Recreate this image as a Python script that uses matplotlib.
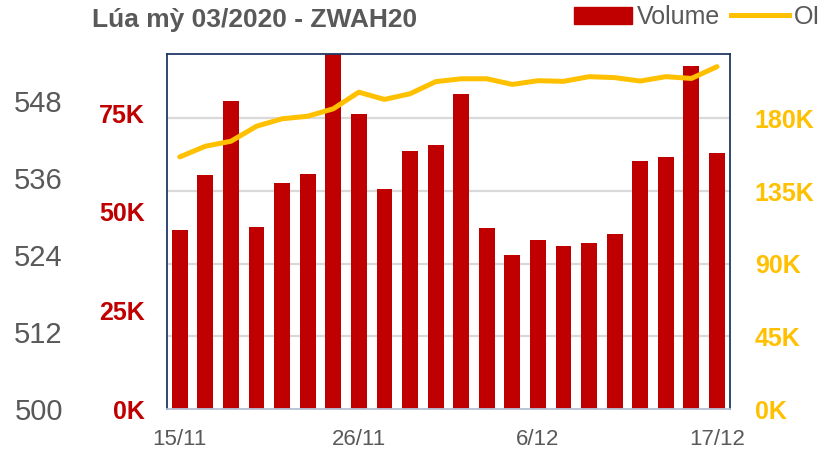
import matplotlib
matplotlib.use("Agg")
import matplotlib.pyplot as plt
from matplotlib.patches import Patch
from matplotlib.lines import Line2D

dates = ["15/11", "18/11", "19/11", "20/11", "21/11", "22/11", "25/11", "26/11",
         "27/11", "29/11", "2/12", "3/12", "4/12", "5/12", "6/12", "9/12",
         "10/12", "11/12", "12/12", "13/12", "16/12", "17/12"]
volume = [45.3, 59.3, 78.0, 46.1, 57.2, 59.5, 93.0, 74.7, 55.7, 65.3, 66.9,
          79.8, 45.8, 39.0, 42.8, 41.3, 42.0, 44.3, 62.8, 63.8, 86.9, 64.8]
oi = [156.2, 162.8, 165.9, 175.2, 179.8, 181.4, 186.0, 196.3, 191.8, 195.3, 202.8,
      204.6, 204.6, 201.1, 203.4, 203.0, 205.9, 205.3, 203.2, 205.9, 204.8, 212.1]
price_ticks = [500, 512, 524, 536, 548]
vol_ticks = [0, 25, 50, 75]
oi_ticks = [0, 45, 90, 135, 180]
tick_labels = ["15/11", "26/11", "6/12", "17/12"]

red = "#c00000"
gold = "#ffc000"
gray = "#595959"
navy = "#1f3864"
narrow = ["Liberation Sans Narrow", "Liberation Sans", "DejaVu Sans"]
plt.rcParams["font.family"] = ["Liberation Sans", "DejaVu Sans"]

fig = plt.figure(figsize=(8.35, 4.53), dpi=100)
ax = fig.add_axes([0.2, 0.097, 0.674, 0.784])
x = list(range(len(dates)))

# volume bars (inner left axis)
ax.bar(x, volume, width=0.62, color=red, zorder=2)
ax.set_ylim(0, 90)
ax.set_xlim(-0.5, len(dates) - 0.5)
ax.set_yticks(vol_ticks)
ax.set_yticklabels([f"{v}K" for v in vol_ticks], color=red, fontsize=18, fontweight="bold")
ax.tick_params(axis="y", length=0, pad=16)
ticks_idx = [dates.index(t) for t in tick_labels]
ax.set_xticks(ticks_idx)
ax.set_xticklabels(tick_labels, color=gray, fontsize=16)
ax.tick_params(axis="x", length=0, pad=14)

# OI line (right axis)
ax2 = ax.twinx()
ax2.plot(x, oi, color=gold, lw=3.6, solid_capstyle="round", solid_joinstyle="round", zorder=3)
ax2.set_ylim(0, 220)
ax2.set_yticks(oi_ticks)
ax2.set_yticklabels([f"{v}K" for v in oi_ticks], color=gold, fontsize=18, fontweight="bold")
ax2.tick_params(axis="y", length=0, pad=18)
for t in oi_ticks[1:]:
    ax.axhline(t / 220 * 90, color="#d9d9d9", lw=1.6, zorder=1)

# price axis (outer left, no data drawn)
ax3 = ax.twinx()
ax3.set_ylim(500, 555.3)
ax3.yaxis.tick_left()
ax3.set_yticks(price_ticks)
ax3.set_yticklabels([str(p) for p in price_ticks], color=gray, fontsize=21)
ax3.tick_params(axis="y", length=0, pad=75)

for a in (ax, ax2, ax3):
    for s in a.spines.values():
        s.set_visible(False)
for name in ("left", "right", "top"):
    ax.spines[name].set_visible(True)
    ax.spines[name].set_color(navy)
    ax.spines[name].set_linewidth(1.3)
ax.spines["bottom"].set_visible(True)
ax.spines["bottom"].set_color("#b4c0d8")
ax.spines["bottom"].set_linewidth(1.3)

fig.text(0.11, 0.956, "Lúa mỳ 03/2020 - ZWAH20", color=gray, fontsize=19,
         fontweight="bold", family=narrow, va="center")

handles = [Patch(facecolor=red, edgecolor=red), Line2D([0], [0], color=gold, lw=3.6)]
leg = fig.legend(handles, ["Volume", "OI"], loc="center right", bbox_to_anchor=(0.994, 0.962),
                 ncol=2, frameon=False, handlelength=2.3, handleheight=0.7,
                 handletextpad=0.2, columnspacing=0.45, borderaxespad=0.0,
                 prop={"family": narrow, "size": 18})
for t in leg.get_texts():
    t.set_color(gray)

fig.savefig("out.png", dpi=100)
